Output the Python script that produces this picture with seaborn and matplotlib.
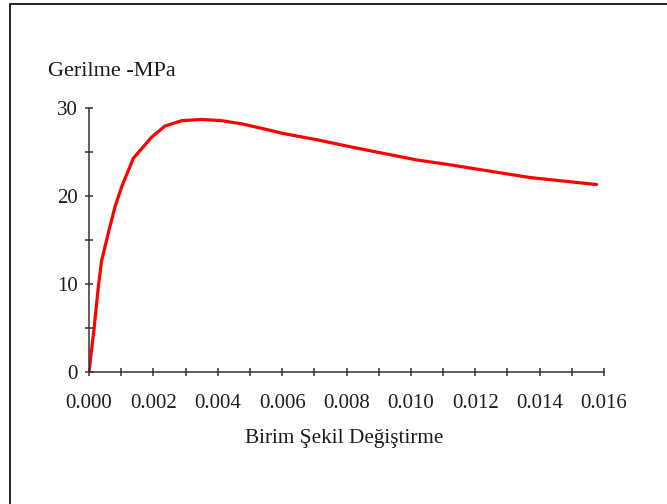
import matplotlib
matplotlib.use("Agg")
import matplotlib.pyplot as plt
import seaborn as sns
import pandas as pd
from matplotlib.lines import Line2D
from matplotlib.ticker import MultipleLocator, FormatStrFormatter

# Data
strain = [0.0, 0.00006, 0.00016, 0.00029, 0.00039, 0.00060, 0.00081, 0.00102,
          0.00138, 0.00195, 0.00236, 0.00288, 0.00350, 0.00412, 0.00474,
          0.00547, 0.00604, 0.00707, 0.00811, 0.00914, 0.01018, 0.01112,
          0.01215, 0.01370, 0.01577]
stress = [0.0, 1.9, 5.0, 9.7, 12.6, 15.8, 18.8, 21.1,
          24.3, 26.7, 27.95, 28.56, 28.7, 28.56, 28.2,
          27.6, 27.1, 26.4, 25.6, 24.85, 24.1, 23.6,
          23.0, 22.1, 21.3]
x_ticks = [0.000, 0.002, 0.004, 0.006, 0.008, 0.010, 0.012, 0.014, 0.016]
y_ticks = [0, 10, 20, 30]
x_label = "Birim Şekil Değiştirme"
y_label = "Gerilme -MPa"

df = pd.DataFrame({"strain": strain, "stress": stress})

sns.set_style("white")
plt.rcParams["font.family"] = ["Liberation Serif", "DejaVu Serif"]

W, H = 667, 504
fig = plt.figure(figsize=(W / 100, H / 100), dpi=100)
ax = fig.add_axes([89 / W, 1 - 372 / H, (604 - 89) / W, (372 - 108) / H])

sns.lineplot(data=df, x="strain", y="stress", ax=ax, color="#ff0000",
             linewidth=2.3, sort=False, estimator=None)

ax.set_xlim(0, 0.016)
ax.set_ylim(0, 30)
ax.set_xticks(x_ticks)
ax.set_yticks(y_ticks)
ax.xaxis.set_major_formatter(FormatStrFormatter("%.3f"))
ax.xaxis.set_minor_locator(MultipleLocator(0.001))
ax.yaxis.set_minor_locator(MultipleLocator(5))

for s in ["top", "right"]:
    ax.spines[s].set_visible(False)
for s in ["left", "bottom"]:
    ax.spines[s].set_color("#333333")
    ax.spines[s].set_linewidth(1.1)

ax.tick_params(axis="both", which="both", direction="inout", length=6,
               width=1.1, color="#333333", bottom=True, left=True,
               top=False, right=False)
ax.tick_params(axis="x", which="major", labelsize=15, pad=12.5,
               labelcolor="#1a1a2a")
ax.tick_params(axis="y", which="major", labelsize=15, pad=5,
               labelcolor="#1a1a2a")
ax.set_xlabel("")
ax.set_ylabel("")

fig.text(48 / W, 1 - 76 / H, y_label, fontsize=16, ha="left",
         va="baseline", color="#1a1a1a")
fig.text(344 / W, 1 - 443 / H, x_label, fontsize=15.3, ha="center",
         va="baseline", color="#1a1a1a")

# Outer frame (left and top edges visible)
fig.add_artist(Line2D([10 / W, 10 / W], [0, 1 - 4 / H], transform=fig.transFigure,
                      color="#222222", linewidth=1.4))
fig.add_artist(Line2D([10 / W, 1], [1 - 4 / H, 1 - 4 / H], transform=fig.transFigure,
                      color="#222222", linewidth=1.4))

fig.savefig("out.png", dpi=100)
